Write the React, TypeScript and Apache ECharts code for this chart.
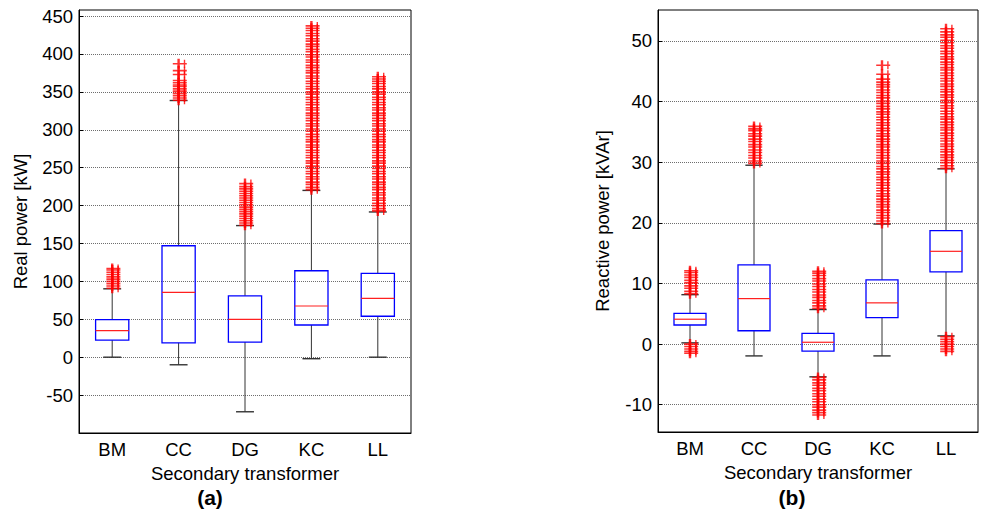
import React, { useEffect, useRef } from 'react';
import * as echarts from 'echarts';

const categories = ['BM', 'CC', 'DG', 'KC', 'LL'];

// (a) Real power [kW]
const realTicks = [-50, 0, 50, 100, 150, 200, 250, 300, 350, 400, 450];
const realLow = [0, -10, -72, -2, 0];
const realQ1 = [22.5, 19, 20, 42.5, 54];
const realMedian = [35, 85.5, 50, 67.5, 77.5];
const realQ3 = [49.5, 147, 81, 114, 110.5];
const realHigh = [90.2, 338.6, 173.6, 220, 191.6];

const realOutBM = [91, 94, 97, 100, 103, 106, 109, 112, 115, 117];
const realOutCC = [339, 342, 345, 348, 351, 354, 357, 359, 362, 365, 373, 378, 387];
const realOutDG = [174, 177, 180, 183, 186, 189, 192, 195, 198, 201, 204, 207, 210, 213, 216, 219, 222, 225, 229];
const realOutKC = [221, 224, 228, 231, 235, 238, 242, 245, 249, 252, 256, 259, 263, 266, 270, 273, 277, 280, 284, 287, 291, 294, 298, 301, 305, 308, 312, 315, 319, 322, 326, 329, 333, 336, 340, 343, 347, 350, 354, 357, 361, 364, 368, 371, 375, 378, 382, 385, 389, 392, 396, 399, 403, 406, 410, 413, 417, 420, 424, 427, 431, 434, 437];
const realOutLL = [193, 196, 200, 203, 207, 210, 214, 217, 221, 224, 228, 231, 235, 238, 242, 245, 249, 252, 256, 259, 263, 266, 270, 273, 277, 280, 284, 287, 291, 294, 298, 301, 305, 308, 312, 315, 319, 322, 326, 329, 333, 336, 340, 343, 347, 350, 354, 357, 361, 364, 367, 370];

// (b) Reactive power [kVAr]
const reactTicks = [-10, 0, 10, 20, 30, 40, 50];
const reactLow = [0.2, -1.95, -5.4, -1.95, 1.35];
const reactQ1 = [3.15, 2.2, -1.15, 4.35, 11.9];
const reactMedian = [4.1, 7.5, 0.3, 6.8, 15.3];
const reactQ3 = [5.05, 13.05, 1.75, 10.6, 18.7];
const reactHigh = [8.15, 29.5, 5.7, 19.8, 28.9];

const reactOutBM = [8.3, 8.7, 9.2, 9.6, 10.1, 10.5, 11.0, 11.4, 11.8, 12.1, 0.0, -0.4, -0.8, -1.2, -1.5];
const reactOutCC = [29.8, 30.2, 30.7, 31.1, 31.6, 32.0, 32.5, 32.9, 33.4, 33.8, 34.3, 34.7, 35.2, 35.5, 35.9];
const reactOutDG = [5.9, 6.3, 6.8, 7.2, 7.7, 8.1, 8.6, 9.0, 9.5, 9.9, 10.4, 10.8, 11.3, 11.7, 12.0, -5.5, -5.9, -6.4, -6.8, -7.3, -7.7, -8.2, -8.6, -9.1, -9.5, -10.0, -10.4, -10.9, -11.3, -11.7];
const reactOutKC = [19.9, 20.3, 20.8, 21.2, 21.7, 22.1, 22.6, 23.0, 23.5, 23.9, 24.4, 24.8, 25.3, 25.7, 26.2, 26.6, 27.1, 27.5, 28.0, 28.4, 28.9, 29.3, 29.8, 30.2, 30.7, 31.1, 31.6, 32.0, 32.5, 32.9, 33.4, 33.8, 34.3, 34.7, 35.2, 35.6, 36.1, 36.5, 37.0, 37.4, 37.9, 38.3, 38.8, 39.2, 39.7, 40.1, 40.6, 41.0, 41.5, 41.9, 42.4, 42.8, 43.2, 43.7, 44.5, 46.0];
const reactOutLL = [29.0, 29.4, 29.9, 30.3, 30.8, 31.2, 31.7, 32.1, 32.6, 33.0, 33.5, 33.9, 34.4, 34.8, 35.3, 35.7, 36.2, 36.6, 37.1, 37.5, 38.0, 38.4, 38.9, 39.3, 39.8, 40.2, 40.7, 41.1, 41.6, 42.0, 42.5, 42.9, 43.4, 43.8, 44.3, 44.7, 45.2, 45.6, 46.1, 46.5, 47.0, 47.4, 47.9, 48.3, 48.8, 49.2, 49.7, 50.1, 50.6, 51.0, 51.5, 52.0, 1.2, 0.8, 0.4, 0.0, -0.4, -0.8, -1.2];

const FONT = 'Liberation Sans, Arial, Helvetica, sans-serif';
const FS = 18.5;
// plus marker: horizontal bar, main vertical bar and a fainter jittered vertical
const PLUS = 'path://M0,4.2H14V5.8H0Z M4.6,0H7V10H4.6Z M11,1H12.4V9H11Z';

function boxSeries(idx: number, low: number[], q1: number[], med: number[], q3: number[], high: number[]) {
  return {
    type: 'custom',
    xAxisIndex: idx,
    yAxisIndex: idx,
    z: 3,
    silent: true,
    data: categories.map((_, i) => [i, low[i], q1[i], med[i], q3[i], high[i]]),
    encode: { x: 0, y: [1, 2, 3, 4, 5] },
    renderItem: (params: any, api: any) => {
      const i = api.value(0);
      const pLow = api.coord([i, api.value(1)]);
      const pQ1 = api.coord([i, api.value(2)]);
      const pMed = api.coord([i, api.value(3)]);
      const pQ3 = api.coord([i, api.value(4)]);
      const pHigh = api.coord([i, api.value(5)]);
      const band = api.size([1, 0])[0];
      const half = band * 0.25;
      const cap = band * 0.135;
      const cx = pLow[0];
      const ws = { stroke: '#333', lineWidth: 1, fill: 'none' };
      return {
        type: 'group',
        children: [
          { type: 'line', shape: { x1: cx, y1: pHigh[1], x2: cx, y2: pQ3[1] }, style: ws },
          { type: 'line', shape: { x1: cx, y1: pQ1[1], x2: cx, y2: pLow[1] }, style: ws },
          { type: 'line', shape: { x1: cx - cap, y1: pHigh[1], x2: cx + cap, y2: pHigh[1] }, style: { ...ws, lineWidth: 1.4 } },
          { type: 'line', shape: { x1: cx - cap, y1: pLow[1], x2: cx + cap, y2: pLow[1] }, style: { ...ws, lineWidth: 1.4 } },
          { type: 'rect', shape: { x: cx - half, y: pQ3[1], width: 2 * half, height: pQ1[1] - pQ3[1] }, style: { fill: 'none', stroke: '#0000ff', lineWidth: 1.3 } },
          { type: 'line', shape: { x1: cx - half, y1: pMed[1], x2: cx + half, y2: pMed[1] }, style: { stroke: '#ff2020', lineWidth: 1.2 } },
        ],
      };
    },
  };
}

function outlierSeries(idx: number, groups: number[][]) {
  const pts: number[][] = [];
  groups.forEach((vals, i) => vals.forEach((v) => pts.push([i, v])));
  return {
    type: 'scatter',
    xAxisIndex: idx,
    yAxisIndex: idx,
    z: 4,
    silent: true,
    data: pts,
    symbol: PLUS,
    symbolSize: [14, 10],
    symbolOffset: [1.2, 0],
    itemStyle: { color: '#ff0000', opacity: 0.8 },
  };
}

function xAxisCfg(idx: number) {
  return {
    type: 'category',
    gridIndex: idx,
    data: categories,
    boundaryGap: true,
    axisTick: { show: false },
    axisLine: { show: true, onZero: false, lineStyle: { color: '#000', width: 1 } },
    axisLabel: { color: '#000', fontSize: FS, fontFamily: FONT, margin: 7 },
    splitLine: { show: false },
    name: 'Secondary transformer',
    nameLocation: 'middle',
    nameGap: 27,
    nameTextStyle: { color: '#000', fontSize: FS, fontFamily: FONT },
  };
}

function yAxisCfg(idx: number, min: number, max: number, ticks: number[], name: string, nameGap: number) {
  return {
    type: 'value',
    gridIndex: idx,
    min,
    max,
    axisLine: { show: true, onZero: false, lineStyle: { color: '#000', width: 1 } },
    axisTick: { show: true, inside: true, length: 4, customValues: ticks, lineStyle: { color: '#000' } },
    axisLabel: { customValues: ticks, color: '#000', fontSize: FS, fontFamily: FONT, margin: 6 },
    splitLine: { show: true, lineStyle: { color: '#6e6e6e', width: 1, type: [1, 1] } },
    name,
    nameLocation: 'middle',
    nameGap,
    nameTextStyle: { color: '#000', fontSize: FS, fontFamily: FONT },
  };
}

export default function App() {
  const ref = useRef<HTMLDivElement>(null);
  useEffect(() => {
    if (!ref.current) return;
    const chart = echarts.init(ref.current, undefined, { renderer: 'svg' });
    chart.setOption({
      animation: false,
      backgroundColor: '#fff',
      textStyle: { fontFamily: FONT },
      grid: [
        { left: 79, top: 10, width: 332, height: 423, show: true, borderColor: '#000', borderWidth: 1, backgroundColor: '#fff' },
        { left: 658, top: 10, width: 320, height: 422, show: true, borderColor: '#000', borderWidth: 1, backgroundColor: '#fff' },
      ],
      xAxis: [xAxisCfg(0), xAxisCfg(1)],
      yAxis: [
        yAxisCfg(0, -100, 458, realTicks, 'Real power [kW]', 49),
        yAxisCfg(1, -14.5, 55.1, reactTicks, 'Reactive power [kVAr]', 46),
      ],
      series: [
        boxSeries(0, realLow, realQ1, realMedian, realQ3, realHigh),
        outlierSeries(0, [realOutBM, realOutCC, realOutDG, realOutKC, realOutLL]),
        boxSeries(1, reactLow, reactQ1, reactMedian, reactQ3, reactHigh),
        outlierSeries(1, [reactOutBM, reactOutCC, reactOutDG, reactOutKC, reactOutLL]),
      ],
      graphic: [
        { type: 'text', x: 210, y: 497, style: { text: '(a)', align: 'center', verticalAlign: 'middle', font: `bold 21px ${FONT}`, fill: '#000' } },
        { type: 'text', x: 792, y: 497, style: { text: '(b)', align: 'center', verticalAlign: 'middle', font: `bold 21px ${FONT}`, fill: '#000' } },
      ],
    });
    return () => chart.dispose();
  }, []);
  return <div ref={ref} style={{ position: 'absolute', left: 0, top: 0, width: 981, height: 513 }} />;
}
